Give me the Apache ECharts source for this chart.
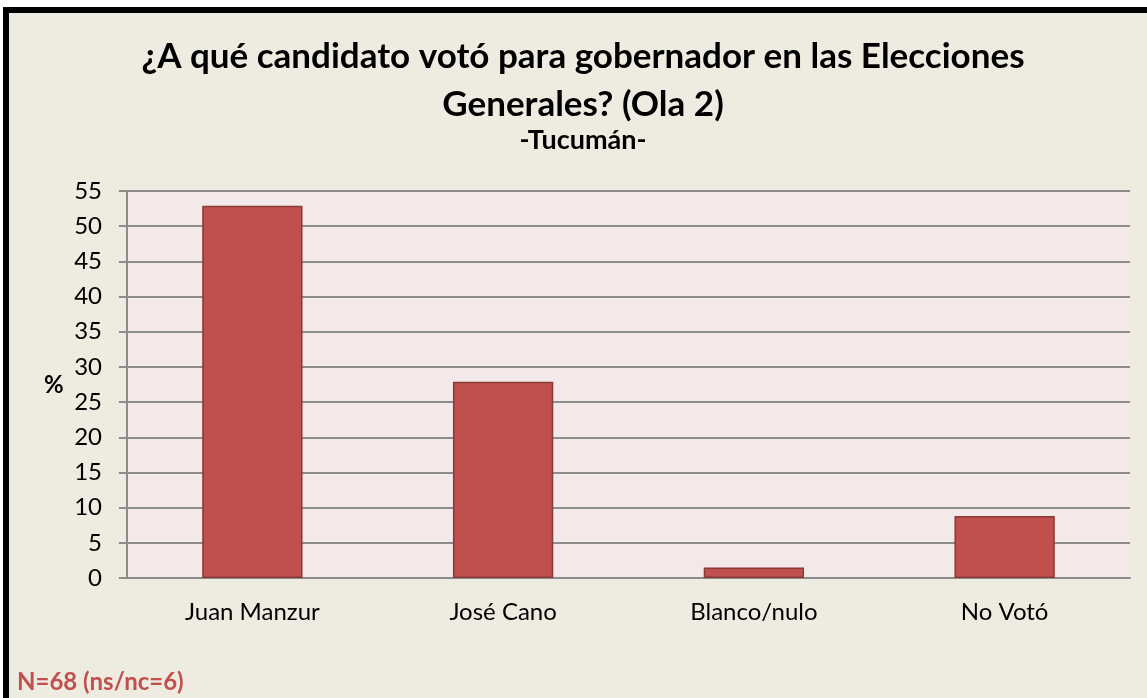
<!DOCTYPE html>
<html>
<head>
<meta charset="utf-8">
<script src="https://cdn.jsdelivr.net/npm/echarts@6/dist/echarts.min.js"></script>
<style>
  html, body { margin: 0; padding: 0; background: #ffffff; }
  #chart { width: 1147px; height: 698px; }
</style>
</head>
<body>
<div id="chart"></div>
<script>
// Vote for governor, general elections (wave 2), Tucumán — % of respondents
const categories = ['Juan Manzur', 'José Cano', 'Blanco/nulo', 'No Votó'];
const votePercent = [52.9, 27.9, 1.5, 8.8];
const yTicks = { min: 0, max: 55, step: 5 };

const titleLines = ['¿A qué candidato votó para gobernador en las Elecciones', 'Generales? (Ola 2)'];
const subtitleText = '-Tucumán-';
const footnoteText = 'N=68 (ns/nc=6)';

const FONT = 'Lato, "Open Sans", sans-serif';

const chart = echarts.init(document.getElementById('chart'), null, { renderer: 'canvas' });

chart.setOption({
  backgroundColor: 'transparent',
  animation: false,
  graphic: [
    {
      type: 'rect',
      z: -10,
      silent: true,
      shape: { x: 6, y: 10, width: 1300, height: 900 },
      style: { fill: '#EEECE1', stroke: '#000000', lineWidth: 6 }
    },
    {
      type: 'text',
      x: 583,
      y: 33,
      style: {
        text: titleLines.join('\n'),
        font: 'bold 35px ' + FONT,
        fill: '#000000',
        align: 'center',
        verticalAlign: 'top',
        lineHeight: 48
      }
    },
    {
      type: 'text',
      x: 583,
      y: 127,
      style: {
        text: subtitleText,
        font: 'bold 27px ' + FONT,
        fill: '#000000',
        align: 'center',
        verticalAlign: 'top'
      }
    },
    {
      type: 'text',
      left: 44,
      top: 373,
      style: { text: '%', font: 'bold 24px ' + FONT, fill: '#000000' }
    },
    {
      type: 'text',
      left: 17,
      top: 670,
      style: { text: footnoteText, font: 'bold 24px ' + FONT, fill: '#C0504D' }
    }
  ],
  grid: {
    left: 127,
    right: 17,
    top: 191,
    bottom: 120,
    show: true,
    backgroundColor: '#F2E9E8',
    borderWidth: 0
  },
  xAxis: {
    type: 'category',
    data: categories,
    axisLine: { show: true, lineStyle: { color: '#8C8C8C', width: 2 } },
    axisTick: { show: false },
    axisLabel: { color: '#000000', fontSize: 24, fontFamily: FONT, margin: 22 }
  },
  yAxis: {
    type: 'value',
    min: yTicks.min,
    max: yTicks.max,
    interval: yTicks.step,
    axisLine: { show: true, lineStyle: { color: '#8C8C8C', width: 2 } },
    axisTick: { show: true, length: 8, lineStyle: { color: '#8C8C8C', width: 2 } },
    axisLabel: { color: '#000000', fontSize: 24, fontFamily: FONT, margin: 25 },
    splitLine: { show: true, lineStyle: { color: '#8C8C8C', width: 2 } }
  },
  series: [
    {
      type: 'bar',
      data: votePercent,
      barWidth: '40%',
      itemStyle: { color: '#C0504D', borderColor: '#8C3836', borderWidth: 1.5 }
    }
  ]
});
</script>
</body>
</html>
